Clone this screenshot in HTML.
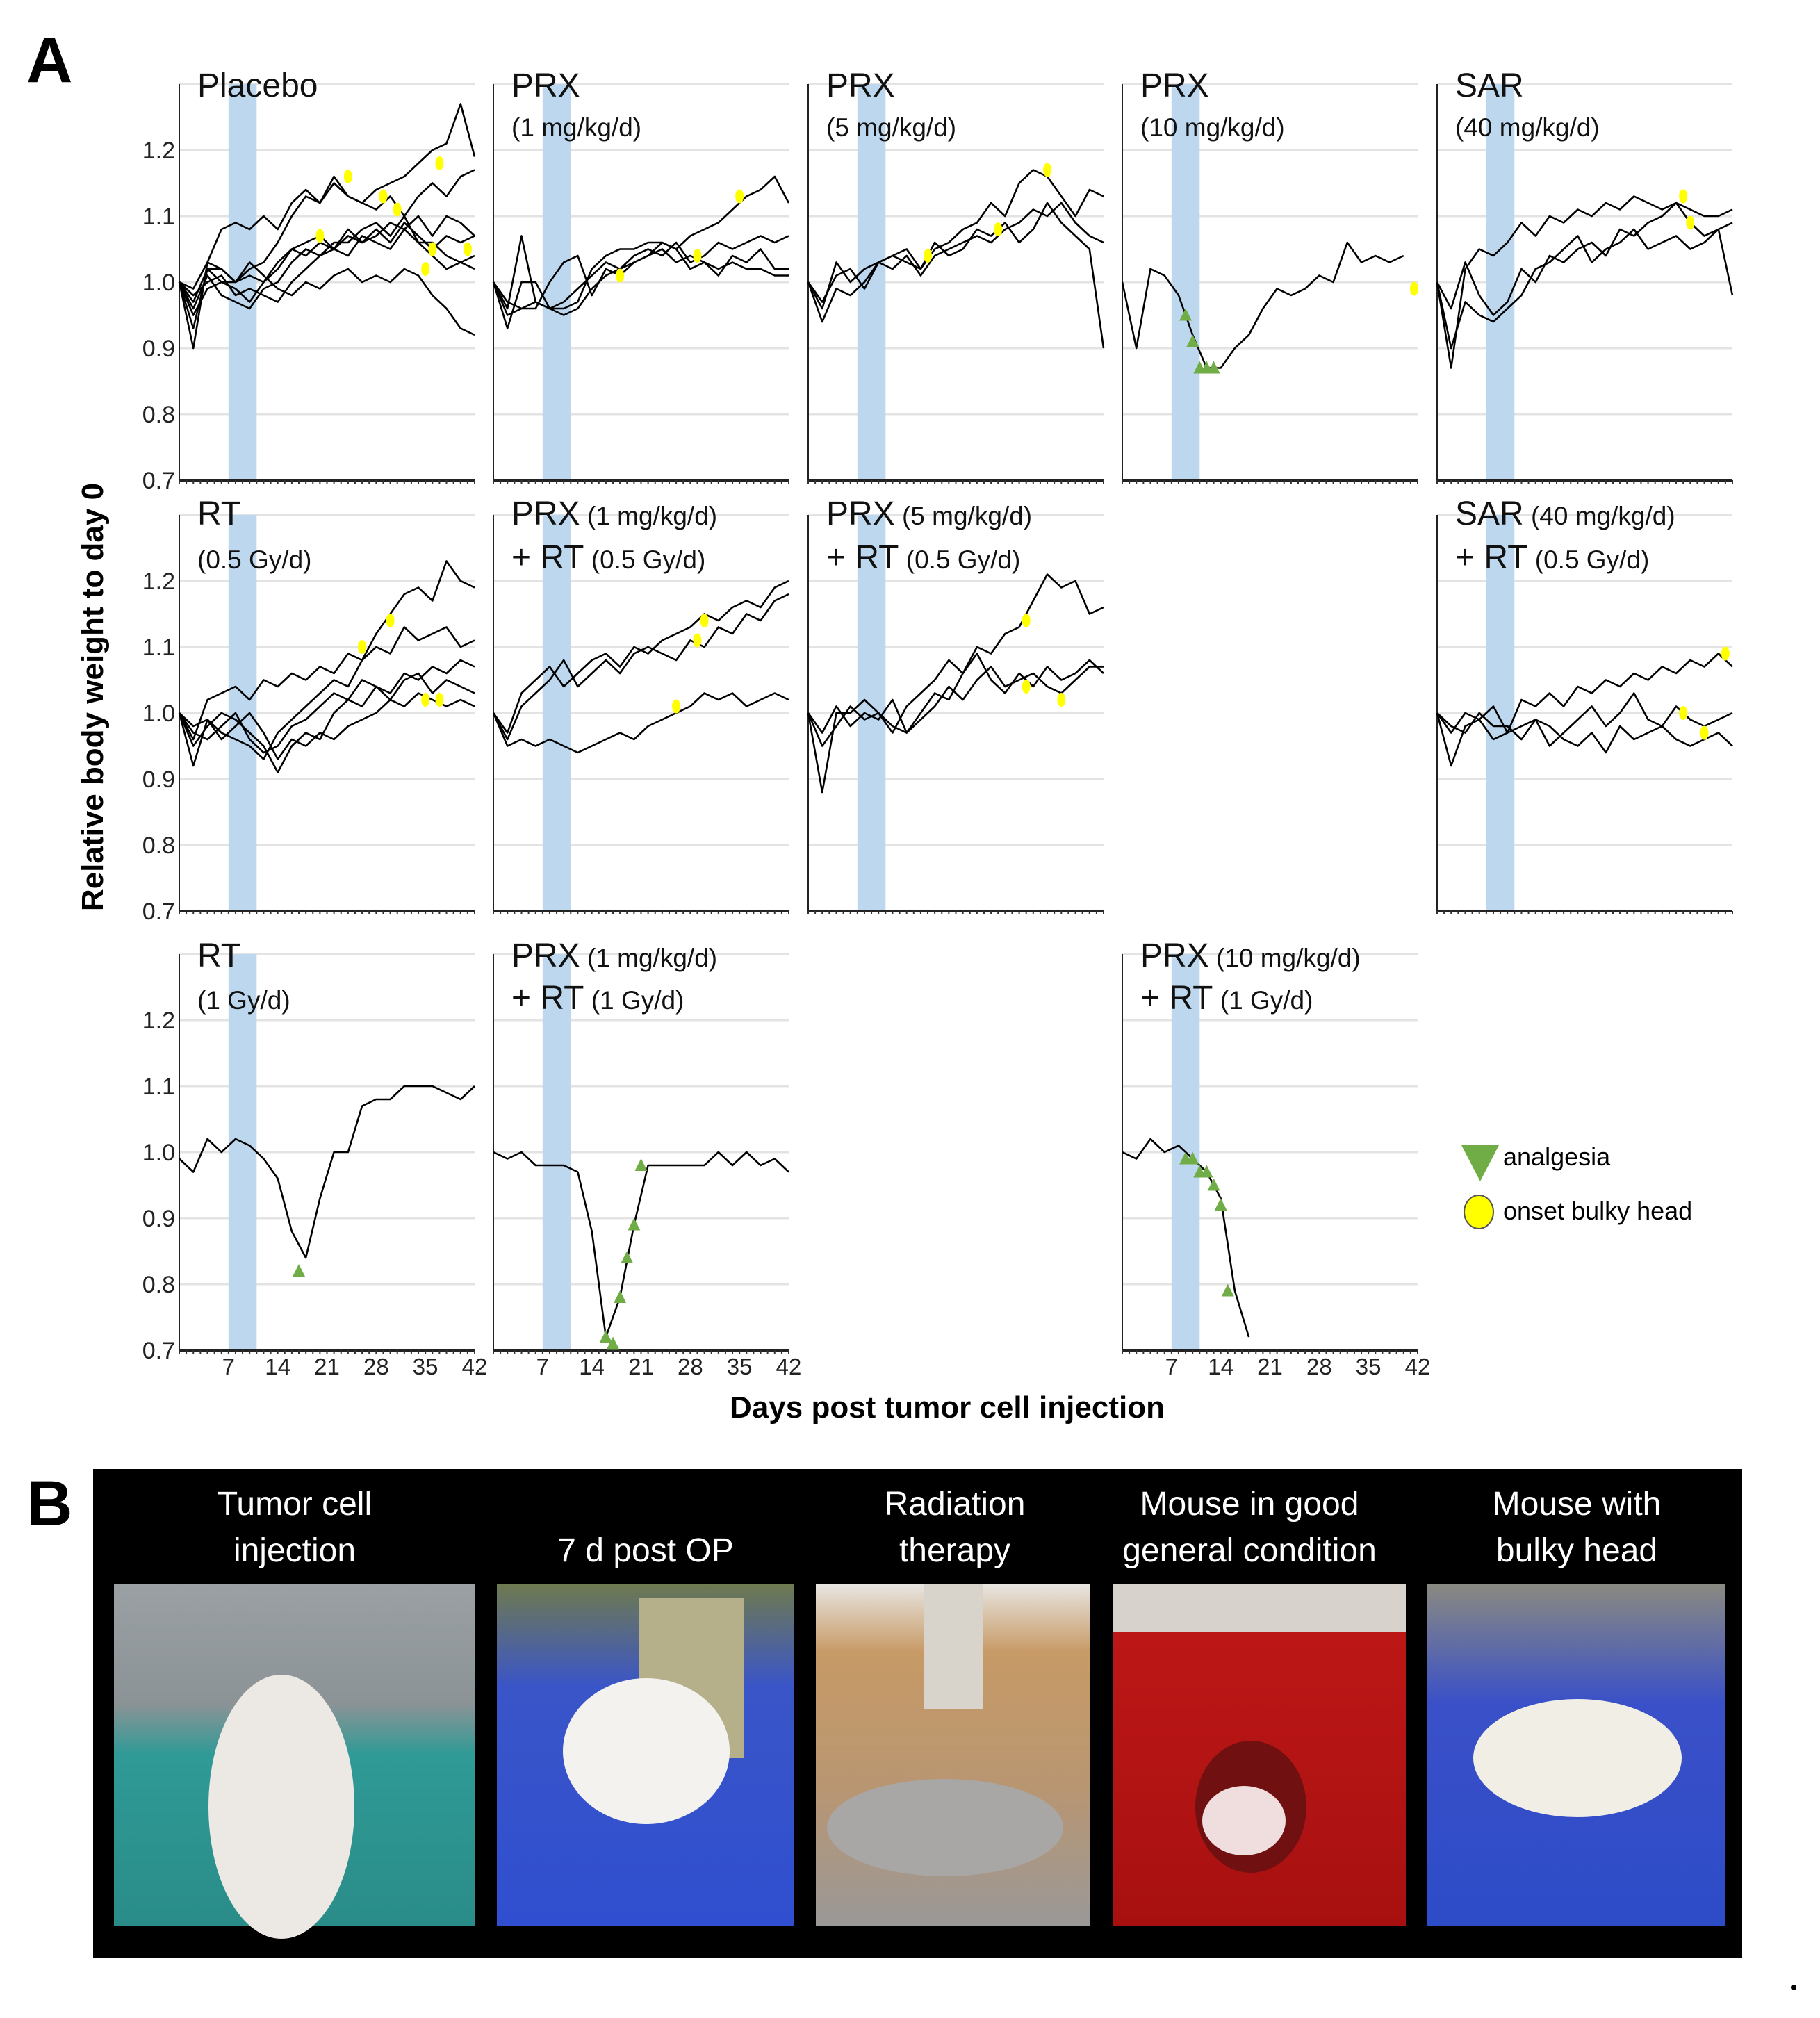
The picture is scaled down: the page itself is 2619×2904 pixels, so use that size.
<!DOCTYPE html>
<html><head><meta charset="utf-8"><style>
html,body{margin:0;padding:0;background:#fff}
body{width:2619px;height:2904px;position:relative;overflow:hidden;font-family:"Liberation Sans",sans-serif}
svg text{font-family:"Liberation Sans","DejaVu Sans",sans-serif}
</style></head><body>
<svg id="chart" width="2619" height="2904" viewBox="0 0 2619 2904" style="position:absolute;left:0;top:0">
<text x="38" y="118" font-size="92" font-weight="bold">A</text>
<text x="0" y="0" font-size="44" font-weight="bold" text-anchor="middle" transform="translate(148,1003) rotate(-90)">Relative body weight to day 0</text>
<text x="1363" y="2040" font-size="44" font-weight="bold" text-anchor="middle">Days post tumor cell injection</text>
<g id="panels"></g>
<g>
<polygon points="2103,1648 2157,1648 2130,1700" fill="#70ad47"/>
<text x="2163" y="1677" font-size="36">analgesia</text>
<ellipse cx="2128" cy="1744" rx="21" ry="24" fill="#ffff00" stroke="#555" stroke-width="2"/>
<text x="2163" y="1755" font-size="36">onset bulky head</text>
</g>
<text x="38" y="2195" font-size="92" font-weight="bold">B</text>
<rect x="134" y="2114" width="2373" height="703" fill="#000"/>
<g fill="#fff" font-size="48" text-anchor="middle">
<text x="424" y="2180">Tumor cell</text><text x="424" y="2247">injection</text>
<text x="929" y="2247">7 d post OP</text>
<text x="1374" y="2180">Radiation</text><text x="1374" y="2247">therapy</text>
<text x="1798" y="2180">Mouse in good</text><text x="1798" y="2247">general condition</text>
<text x="2269" y="2180">Mouse with</text><text x="2269" y="2247">bulky head</text>
</g>
<defs>
<linearGradient id="g1" x1="0" y1="0" x2="0" y2="1"><stop offset="0" stop-color="#9aa0a3"/><stop offset="0.35" stop-color="#8c9396"/><stop offset="0.5" stop-color="#2f9a96"/><stop offset="1" stop-color="#2a8c88"/></linearGradient>
<linearGradient id="g2" x1="0" y1="0" x2="0" y2="1"><stop offset="0" stop-color="#6f7a4e"/><stop offset="0.3" stop-color="#3a55c8"/><stop offset="1" stop-color="#2f4fd0"/></linearGradient>
<linearGradient id="g3" x1="0" y1="0" x2="0" y2="1"><stop offset="0" stop-color="#e8e6e2"/><stop offset="0.2" stop-color="#c79a66"/><stop offset="0.6" stop-color="#b89672"/><stop offset="1" stop-color="#9a9898"/></linearGradient>
<linearGradient id="g4" x1="0" y1="0" x2="0" y2="1"><stop offset="0" stop-color="#c01818"/><stop offset="1" stop-color="#a81010"/></linearGradient>
<linearGradient id="g5" x1="0" y1="0" x2="0" y2="1"><stop offset="0" stop-color="#8a8a80"/><stop offset="0.35" stop-color="#3a50c8"/><stop offset="1" stop-color="#2d4cc8"/></linearGradient>
</defs>
<g><rect x="164" y="2279" width="520" height="493" fill="url(#g1)"/><ellipse cx="405" cy="2600" rx="105" ry="190" fill="#ece8e4"/></g>
<g><rect x="715" y="2279" width="427" height="493" fill="url(#g2)"/><rect x="920" y="2300" width="150" height="230" fill="#b5b08a"/><ellipse cx="930" cy="2520" rx="120" ry="105" fill="#f4f2ee"/></g>
<g><rect x="1174" y="2279" width="395" height="493" fill="url(#g3)"/><rect x="1330" y="2279" width="85" height="180" fill="#d8d4cc"/><ellipse cx="1360" cy="2630" rx="170" ry="70" fill="#a9a7a5"/></g>
<g><rect x="1602" y="2279" width="421" height="493" fill="url(#g4)"/><rect x="1602" y="2279" width="421" height="70" fill="#d8d2cc"/><ellipse cx="1800" cy="2600" rx="80" ry="95" fill="#701010"/><ellipse cx="1790" cy="2620" rx="60" ry="50" fill="#f0dede"/></g>
<g><rect x="2054" y="2279" width="429" height="493" fill="url(#g5)"/><ellipse cx="2270" cy="2530" rx="150" ry="85" fill="#f1eee6"/></g>
<circle cx="2581" cy="2860" r="4" fill="#000"/>
</svg>
<script>
const days = [0,2,4,6,8,10,12,14,16,18,20,22,24,26,28,30,32,34,36,38,40,42];
const yTicks = [0.7,0.8,0.9,1.0,1.1,1.2];
const xTicks = [7,14,21,28,35,42];
const placeboA = [1.0,0.90,1.03,1.08,1.09,1.08,1.10,1.08,1.12,1.14,1.12,1.15,1.13,1.12,1.14,1.15,1.16,1.18,1.20,1.21,1.27,1.19];
const placeboB = [1.0,0.97,1.02,1.00,1.00,1.02,1.03,1.06,1.10,1.13,1.12,1.16,1.13,1.12,1.11,1.13,1.10,1.13,1.15,1.13,1.16,1.17];
const placeboC = [1.0,0.95,0.99,1.00,0.99,0.97,1.00,1.02,1.05,1.06,1.07,1.05,1.08,1.06,1.07,1.09,1.08,1.10,1.07,1.10,1.09,1.07];
const placeboD = [1.0,0.96,1.01,0.98,0.97,0.96,0.99,1.00,1.03,1.05,1.04,1.06,1.06,1.08,1.09,1.07,1.10,1.06,1.06,1.04,1.03,1.04];
const placeboE = [1.0,0.93,1.02,1.02,1.00,1.03,1.01,0.99,0.98,1.00,0.99,1.01,1.02,1.00,1.01,1.00,1.02,1.01,0.98,0.96,0.93,0.92];
const placeboF = [1.0,0.98,1.00,1.01,0.98,0.99,0.98,0.97,1.00,1.02,1.04,1.05,1.07,1.06,1.08,1.06,1.09,1.07,1.05,1.07,1.06,1.07];
const placeboG = [1.0,0.99,1.03,1.02,1.00,1.01,1.00,1.03,1.05,1.04,1.06,1.05,1.04,1.07,1.06,1.05,1.08,1.06,1.04,1.02,1.03,1.02];
const placeboBulkyDays = [24,29,31,37,20,35,36,41];
const placeboBulkyVals = [1.16,1.13,1.11,1.18,1.07,1.02,1.05,1.05];
const prx1A = [1.0,0.93,1.0,1.0,0.96,0.96,0.97,1.02,1.04,1.05,1.05,1.06,1.06,1.05,1.07,1.08,1.09,1.11,1.13,1.14,1.16,1.12];
const prx1B = [1.0,0.96,1.07,0.97,0.96,0.95,0.96,0.99,1.01,1.02,1.03,1.04,1.05,1.03,1.04,1.03,1.02,1.03,1.02,1.02,1.01,1.01];
const prx1C = [1.0,0.97,0.96,0.97,0.96,0.97,0.99,1.01,1.03,1.02,1.04,1.05,1.04,1.06,1.03,1.04,1.06,1.05,1.06,1.07,1.06,1.07];
const prx1D = [1.0,0.95,0.96,0.96,1.0,1.03,1.04,0.98,1.02,1.01,1.03,1.04,1.06,1.05,1.02,1.03,1.01,1.04,1.03,1.05,1.02,1.02];
const prx1BulkyDays = [18,29,35]; const prx1BulkyVals = [1.01,1.04,1.13];
const prx5A = [1.0,0.96,1.03,1.0,1.02,1.03,1.04,1.03,1.02,1.05,1.06,1.08,1.09,1.12,1.10,1.15,1.17,1.16,1.13,1.10,1.14,1.13];
const prx5B = [1.0,0.94,0.99,0.98,1.0,1.03,1.02,1.04,1.01,1.04,1.05,1.06,1.07,1.06,1.08,1.09,1.11,1.10,1.12,1.09,1.07,1.06];
const prx5C = [1.0,0.97,1.01,1.02,0.99,1.03,1.04,1.05,1.02,1.06,1.04,1.05,1.08,1.07,1.09,1.06,1.08,1.12,1.09,1.07,1.05,0.90];
const prx5BulkyDays = [17,27,34]; const prx5BulkyVals = [1.04,1.08,1.17];
const prx10A = [1.0,0.90,1.02,1.01,0.98,0.92,0.87,0.87,0.90,0.92,0.96,0.99,0.98,0.99,1.01,1.00,1.06,1.03,1.04,1.03,1.04,null];
const prx10BulkyDays = [41.5]; const prx10BulkyVals = [0.99];
const prx10AnalgDays = [9,10,11,12,13]; const prx10AnalgVals = [0.95,0.91,0.87,0.87,0.87];
const sarA = [1.0,0.87,1.02,1.05,1.04,1.06,1.09,1.07,1.10,1.09,1.11,1.10,1.12,1.11,1.13,1.12,1.11,1.12,1.11,1.10,1.10,1.11];
const sarB = [1.0,0.96,1.03,0.98,0.95,0.97,1.02,1.00,1.04,1.03,1.05,1.06,1.04,1.08,1.07,1.09,1.10,1.12,1.09,1.07,1.08,1.09];
const sarC = [1.0,0.90,0.97,0.95,0.94,0.96,0.98,1.02,1.03,1.05,1.07,1.03,1.05,1.06,1.08,1.05,1.06,1.07,1.05,1.06,1.08,0.98];
const sarBulkyDays = [35,36]; const sarBulkyVals = [1.13,1.09];
const rt05A = [1.0,0.96,1.02,1.03,1.04,1.02,1.05,1.04,1.06,1.05,1.07,1.06,1.09,1.08,1.12,1.15,1.18,1.19,1.17,1.23,1.20,1.19];
const rt05B = [1.0,0.92,0.99,0.97,0.96,0.95,0.93,0.97,0.99,1.01,1.03,1.05,1.04,1.08,1.10,1.09,1.13,1.11,1.12,1.13,1.10,1.11];
const rt05C = [1.0,0.95,0.98,1.0,0.99,0.97,0.95,0.91,0.95,0.97,0.96,1.0,1.02,1.01,1.04,1.03,1.06,1.05,1.07,1.06,1.08,1.07];
const rt05D = [1.0,0.97,0.96,0.98,1.0,0.96,0.94,0.95,0.98,0.99,1.01,1.03,1.02,1.05,1.04,1.02,1.05,1.06,1.03,1.05,1.04,1.03];
const rt05E = [1.0,0.98,0.99,0.96,0.98,1.0,0.97,0.93,0.96,0.95,0.97,0.96,0.98,0.99,1.0,1.02,1.01,1.03,1.02,1.01,1.02,1.01];
const rt05BulkyDays = [26,30,35,37]; const rt05BulkyVals = [1.10,1.14,1.02,1.02];
const prx1rtA = [1.0,0.97,1.03,1.05,1.07,1.04,1.06,1.08,1.09,1.07,1.10,1.09,1.11,1.12,1.13,1.15,1.14,1.16,1.17,1.16,1.19,1.20];
const prx1rtB = [1.0,0.96,1.01,1.03,1.05,1.08,1.04,1.06,1.08,1.06,1.09,1.10,1.09,1.08,1.11,1.10,1.13,1.12,1.15,1.14,1.17,1.18];
const prx1rtC = [1.0,0.95,0.96,0.95,0.96,0.95,0.94,0.95,0.96,0.97,0.96,0.98,0.99,1.00,1.01,1.03,1.02,1.03,1.01,1.02,1.03,1.02];
const prx1rtBulkyDays = [26,29,30]; const prx1rtBulkyVals = [1.01,1.11,1.14];
const prx5rtA = [1.0,0.88,1.0,1.0,1.02,1.0,0.97,1.01,1.03,1.05,1.08,1.06,1.10,1.09,1.12,1.13,1.17,1.21,1.19,1.20,1.15,1.16];
const prx5rtB = [1.0,0.95,0.98,1.01,0.99,1.0,0.98,0.97,1.0,1.03,1.02,1.06,1.09,1.05,1.03,1.06,1.04,1.07,1.05,1.06,1.08,1.06];
const prx5rtC = [1.0,0.97,1.01,0.98,1.0,0.99,1.02,0.97,0.99,1.01,1.04,1.02,1.05,1.07,1.04,1.05,1.06,1.04,1.03,1.05,1.07,1.07];
const prx5rtBulkyDays = [31,31,36]; const prx5rtBulkyVals = [1.14,1.04,1.02];
const sarrtA = [1.0,0.97,1.0,0.99,1.01,0.97,1.02,1.01,1.03,1.01,1.04,1.03,1.05,1.04,1.06,1.05,1.07,1.06,1.08,1.07,1.09,1.07];
const sarrtB = [1.0,0.92,0.98,0.99,0.96,0.97,0.98,0.99,0.95,0.97,0.99,1.01,0.98,1.0,1.03,0.99,0.98,1.01,0.99,0.98,0.99,1.00];
const sarrtC = [1.0,0.98,0.97,1.0,0.98,0.98,0.96,0.99,0.98,0.96,0.95,0.97,0.94,0.98,0.96,0.97,0.98,0.96,0.95,0.96,0.97,0.95];
const sarrtBulkyDays = [41,35,38]; const sarrtBulkyVals = [1.09,1.00,0.97];
const rt1A = [0.99,0.97,1.02,1.0,1.02,1.01,0.99,0.96,0.88,0.84,0.93,1.0,1.0,1.07,1.08,1.08,1.10,1.10,1.10,1.09,1.08,1.10];
const rt1AnalgDays = [17]; const rt1AnalgVals = [0.82];
const prx1rt1A = [1.0,0.99,1.0,0.98,0.98,0.98,0.97,0.88,0.72,0.78,0.89,0.98,0.98,0.98,0.98,0.98,1.0,0.98,1.0,0.98,0.99,0.97];
const prx1rt1AnalgDays = [16,17,18,19,20,21]; const prx1rt1AnalgVals = [0.72,0.71,0.78,0.84,0.89,0.98];
const prx10rt1A = [1.0,0.99,1.02,1.0,1.01,0.99,0.97,0.93,0.79,0.72,null,null,null,null,null,null,null,null,null,null,null,null];
const prx10rt1AnalgDays = [9,10,11,12,13,14,15]; const prx10rt1AnalgVals = [0.99,0.99,0.97,0.97,0.95,0.92,0.79];

const colX=[258,710,1163,1615,2068], rowB=[691,1311,1943];
const W=425, PXDAY=W/42, PX01=95;
const panels=[
 {name:'placebo',c:0,r:0,t1:'Placebo',t1s:'',t2:'',series:[placeboA,placeboB,placeboC,placeboD,placeboE,placeboF,placeboG],bd:placeboBulkyDays,bv:placeboBulkyVals},
 {name:'prx-1',c:1,r:0,t1:'PRX',t1s:'',t2:'(1 mg/kg/d)',series:[prx1A,prx1B,prx1C,prx1D],bd:prx1BulkyDays,bv:prx1BulkyVals},
 {name:'prx-5',c:2,r:0,t1:'PRX',t1s:'',t2:'(5 mg/kg/d)',series:[prx5A,prx5B,prx5C],bd:prx5BulkyDays,bv:prx5BulkyVals},
 {name:'prx-10',c:3,r:0,t1:'PRX',t1s:'',t2:'(10 mg/kg/d)',series:[prx10A],bd:prx10BulkyDays,bv:prx10BulkyVals,ad:prx10AnalgDays,av:prx10AnalgVals},
 {name:'sar-40',c:4,r:0,t1:'SAR',t1s:'',t2:'(40 mg/kg/d)',series:[sarA,sarB,sarC],bd:sarBulkyDays,bv:sarBulkyVals},
 {name:'rt-05',c:0,r:1,t1:'RT',t1s:'',t2:'(0.5 Gy/d)',series:[rt05A,rt05B,rt05C,rt05D,rt05E],bd:rt05BulkyDays,bv:rt05BulkyVals},
 {name:'prx-1-rt-05',c:1,r:1,t1:'PRX',t1s:' (1 mg/kg/d)',t2:'+ RT',t2s:' (0.5 Gy/d)',series:[prx1rtA,prx1rtB,prx1rtC],bd:prx1rtBulkyDays,bv:prx1rtBulkyVals},
 {name:'prx-5-rt-05',c:2,r:1,t1:'PRX',t1s:' (5 mg/kg/d)',t2:'+ RT',t2s:' (0.5 Gy/d)',series:[prx5rtA,prx5rtB,prx5rtC],bd:prx5rtBulkyDays,bv:prx5rtBulkyVals},
 {name:'sar-40-rt-05',c:4,r:1,t1:'SAR',t1s:' (40 mg/kg/d)',t2:'+ RT',t2s:' (0.5 Gy/d)',series:[sarrtA,sarrtB,sarrtC],bd:sarrtBulkyDays,bv:sarrtBulkyVals},
 {name:'rt-1',c:0,r:2,t1:'RT',t1s:'',t2:'(1 Gy/d)',series:[rt1A],ad:rt1AnalgDays,av:rt1AnalgVals},
 {name:'prx-1-rt-1',c:1,r:2,t1:'PRX',t1s:' (1 mg/kg/d)',t2:'+ RT',t2s:' (1 Gy/d)',series:[prx1rt1A],ad:prx1rt1AnalgDays,av:prx1rt1AnalgVals},
 {name:'prx-10-rt-1',c:3,r:2,t1:'PRX',t1s:' (10 mg/kg/d)',t2:'+ RT',t2s:' (1 Gy/d)',series:[prx10rt1A],ad:prx10rt1AnalgDays,av:prx10rt1AnalgVals}
];
const NS='http://www.w3.org/2000/svg';
const root=document.getElementById('panels');
function mk(tag,attrs,parent){const e=document.createElementNS(NS,tag);for(const k in attrs)e.setAttribute(k,attrs[k]);parent.appendChild(e);return e;}
panels.forEach(p=>{
 const L=colX[p.c], B=rowB[p.r];
 const xs=d=>L+d*PXDAY, ys=v=>B-(v-0.7)*PX01*10;
 const g=mk('g',{},root);
 
 
 for(let v=0.8;v<1.35;v+=0.1){const gl=mk('line',{x1:L,x2:L+W,y1:ys(v),y2:ys(v),stroke:'#e3e3e3','stroke-width':3},g);
  
  }
 const band=mk('rect',{x:xs(7),y:ys(1.3),width:xs(11)-xs(7),height:ys(0.7)-ys(1.3),fill:'#bdd7ee'},g);
 
 
 const ya=mk('line',{x1:L,x2:L,y1:ys(1.3),y2:B,stroke:'#222','stroke-width':2},g);
 
 
 const xa=mk('line',{x1:L,x2:L+W,y1:B,y2:B,stroke:'#222','stroke-width':4},g);
 
 
 for(let d=0;d<=42;d++){mk('line',{x1:xs(d),x2:xs(d),y1:B,y2:B+5,stroke:'#333','stroke-width':2},g);}
 const t=mk('text',{x:L+26,y:p.r===0?139:(p.r===1?755:1391),'font-size':48,fill:'#111'},g);
 
 
 t.textContent=p.t1;
 if(p.t1s){const s=mk('tspan',{'font-size':37},t);s.textContent=p.t1s;}
 if(p.t2){const t2=mk('text',{x:L+26,y:p.r===0?196:(p.r===1?818:1452),'font-size':p.t2s?48:37,fill:'#111'},g);
  
  
  t2.textContent=p.t2;
  if(p.t2s){const s=mk('tspan',{'font-size':37},t2);s.textContent=p.t2s;}}
 if(p.c===0){yTicks.forEach(v=>{const tl=mk('text',{x:L-6,y:ys(v)+12,'font-size':34,'text-anchor':'end',fill:'#222'},g);
  
  
  tl.textContent=v.toFixed(1);});}
 if(p.r===2){xTicks.forEach(d=>{const tl=mk('text',{x:xs(d),y:B+35,'font-size':33,'text-anchor':'middle',fill:'#222'},g);
  
  
  tl.textContent=d;});}
 p.series.forEach((s,i)=>{let pts=[];s.forEach((v,j)=>{if(v!==null)pts.push(xs(days[j]).toFixed(1)+','+ys(v).toFixed(1));});
  const pl=mk('polyline',{points:pts.join(' '),fill:'none',stroke:'#000','stroke-width':2.6,'stroke-linejoin':'round'},g);
  
  });
 if(p.ad){p.ad.forEach((d,i)=>{const x=xs(d),y=ys(p.av[i]);
  const tr=mk('polygon',{points:`${x-9},${y+8} ${x+9},${y+8} ${x},${y-10}`,fill:'#70ad47'},g);
  
  });}
 if(p.bd){p.bd.forEach((d,i)=>{const el=mk('ellipse',{cx:xs(d),cy:ys(p.bv[i]),rx:6,ry:10,fill:'#ffff00'},g);
  
  });}
});
</script>
</body></html>
